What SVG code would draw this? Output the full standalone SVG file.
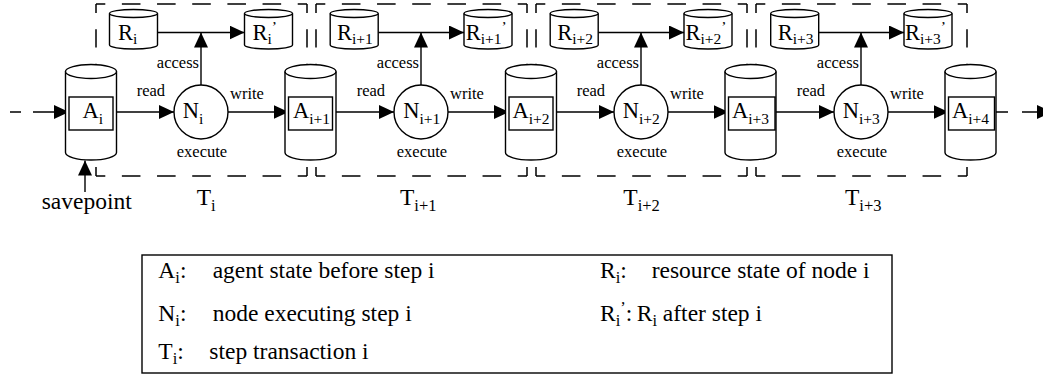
<svg xmlns="http://www.w3.org/2000/svg" xmlns:xlink="http://www.w3.org/1999/xlink" width="1043" height="376" viewBox="0 0 1043 376">
<style>
.ln{stroke:#000;stroke-width:1.4;fill:none}
.arr{marker-end:url(#ah)}
.box{fill:none;stroke:#000;stroke-width:1.5}
.dh{stroke-dasharray:18.6 16.57;stroke-dashoffset:9.3}
.dv{stroke-dasharray:18.2 16.2;stroke-dashoffset:9.1}
.node{fill:#fff;stroke:#000;stroke-width:1.4}
text{font-family:"Liberation Serif","Times New Roman",serif;fill:#000}
.big{font-size:22.5px}
.sub{font-size:15.5px}
.lbl{font-size:16.5px}
.cap{font-size:23.5px}
.csub{font-size:16.5px}
</style>
<defs>
<marker id="ah" viewBox="0 0 15 14" refX="15" refY="7" markerWidth="15" markerHeight="14" markerUnits="userSpaceOnUse" orient="auto"><path d="M0,0 L15,7 L0,14 Z" fill="#000"/></marker>
<g id="cylA"><path d="M-25.5,71.5 V152.5 A25.5,7.5 0 0 0 25.5,152.5 V71.5" fill="#fff" stroke="#000" stroke-width="1.4"/><ellipse cx="0" cy="71.5" rx="25.5" ry="7" fill="#fff" stroke="#000" stroke-width="1.4"/></g>
<g id="cylR"><path d="M-24,13.5 V45 A24,4 0 0 0 24,45 V13.5" fill="#fff" stroke="#000" stroke-width="1.4"/><ellipse cx="0" cy="13.5" rx="24" ry="4" fill="#fff" stroke="#000" stroke-width="1.4"/></g>
</defs>
<rect width="1043" height="376" fill="#fff"/>

<!-- transaction boxes -->
<g id="T0">
<line class="box dh" x1="96" y1="4" x2="307" y2="4"/><line class="box dh" x1="96" y1="176" x2="307" y2="176"/>
<line class="box dv" x1="96" y1="4" x2="96" y2="176"/><line class="box dv" x1="307" y1="4" x2="307" y2="176"/>
<text class="cap" x="196.7" y="205">T<tspan class="csub" y="210.5">i</tspan></text>
</g>
<g id="T1">
<line class="box dh" x1="316" y1="4" x2="527" y2="4"/><line class="box dh" x1="316" y1="176" x2="527" y2="176"/>
<line class="box dv" x1="316" y1="4" x2="316" y2="176"/><line class="box dv" x1="527" y1="4" x2="527" y2="176"/>
<text class="cap" x="400" y="205">T<tspan class="csub" y="210.5">i+1</tspan></text>
</g>
<g id="T2">
<line class="box dh" x1="536" y1="4" x2="747" y2="4"/><line class="box dh" x1="536" y1="176" x2="747" y2="176"/>
<line class="box dv" x1="536" y1="4" x2="536" y2="176"/><line class="box dv" x1="747" y1="4" x2="747" y2="176"/>
<text class="cap" x="623.3" y="205">T<tspan class="csub" y="210.5">i+2</tspan></text>
</g>
<g id="T3">
<line class="box dh" x1="756" y1="4" x2="967" y2="4"/><line class="box dh" x1="756" y1="176" x2="967" y2="176"/>
<line class="box dv" x1="756" y1="4" x2="756" y2="176"/><line class="box dv" x1="967" y1="4" x2="967" y2="176"/>
<text class="cap" x="845" y="205">T<tspan class="csub" y="210.5">i+3</tspan></text>
</g>

<!-- connectors -->
<g id="connectors">
<path class="ln arr" d="M10,112 H21 M33,112 H69"/>
<path class="ln arr" d="M112.7,112 H174"/>
<path class="ln arr" d="M228,112 H288.5"/>
<path class="ln arr" d="M332.5,112 H394"/>
<path class="ln arr" d="M448,112 H509"/>
<path class="ln arr" d="M553,112 H614"/>
<path class="ln arr" d="M668,112 H728.5"/>
<path class="ln arr" d="M775,112 H834"/>
<path class="ln arr" d="M888,112 H948.5"/>
<path class="ln arr" d="M994.5,112 H1008 M1022,112 H1052"/>
<path class="ln arr" d="M201,85 V32.5"/>
<path class="ln arr" d="M421,85 V32.5"/>
<path class="ln arr" d="M641,85 V32.5"/>
<path class="ln arr" d="M861,85 V32.5"/>
<path class="ln arr" d="M157.5,32.5 H244.5"/>
<path class="ln arr" d="M378.2,32.5 H464"/>
<path class="ln arr" d="M598.2,32.5 H684"/>
<path class="ln arr" d="M818.7,32.5 H904"/>
<path class="ln arr" d="M85,192 V160.5"/>
</g>

<!-- edge labels -->
<g id="labels">
<text class="lbl" x="136.7" y="96">read</text>
<text class="lbl" x="356.7" y="96">read</text>
<text class="lbl" x="576.7" y="96">read</text>
<text class="lbl" x="796.7" y="96">read</text>
<text class="lbl" x="230" y="98.5">write</text>
<text class="lbl" x="450" y="98.5">write</text>
<text class="lbl" x="670" y="98.5">write</text>
<text class="lbl" x="890" y="98.5">write</text>
<text class="lbl" x="199" y="68" text-anchor="end">access</text>
<text class="lbl" x="419" y="68" text-anchor="end">access</text>
<text class="lbl" x="639" y="68" text-anchor="end">access</text>
<text class="lbl" x="859" y="68" text-anchor="end">access</text>
<text class="lbl" x="202" y="157" text-anchor="middle">execute</text>
<text class="lbl" x="422" y="157" text-anchor="middle">execute</text>
<text class="lbl" x="642" y="157" text-anchor="middle">execute</text>
<text class="lbl" x="862" y="157" text-anchor="middle">execute</text>
<text class="cap" x="86.7" y="209" text-anchor="middle">savepoint</text>
</g>

<!-- agent state nodes -->
<g id="A0"><use xlink:href="#cylA" x="91"/><rect class="node" x="69" y="97" width="44" height="33"/><text class="big" x="82.5" y="118">A<tspan class="sub" y="124">i</tspan></text></g>
<g id="A1"><use xlink:href="#cylA" x="310.5"/><rect class="node" x="288.5" y="97" width="44" height="33"/><text class="big" x="293" y="118">A<tspan class="sub" y="124">i+1</tspan></text></g>
<g id="A2"><use xlink:href="#cylA" x="531"/><rect class="node" x="509" y="97" width="44" height="33"/><text class="big" x="512.5" y="118">A<tspan class="sub" y="124">i+2</tspan></text></g>
<g id="A3"><use xlink:href="#cylA" x="750.5"/><rect class="node" x="728.5" y="97" width="46.5" height="33"/><text class="big" x="732" y="118">A<tspan class="sub" y="124">i+3</tspan></text></g>
<g id="A4"><use xlink:href="#cylA" x="970.5"/><rect class="node" x="948.5" y="97" width="46" height="33"/><text class="big" x="952" y="118">A<tspan class="sub" y="124">i+4</tspan></text></g>

<!-- execution nodes -->
<g id="N0"><circle class="node" cx="201" cy="112" r="27"/><text class="big" x="182.7" y="118">N<tspan class="sub" y="124">i</tspan></text></g>
<g id="N1"><circle class="node" cx="421" cy="112" r="27"/><text class="big" x="403.3" y="118">N<tspan class="sub" y="124">i+1</tspan></text></g>
<g id="N2"><circle class="node" cx="641" cy="112" r="27"/><text class="big" x="622.7" y="118">N<tspan class="sub" y="124">i+2</tspan></text></g>
<g id="N3"><circle class="node" cx="861" cy="112" r="27"/><text class="big" x="842.7" y="118">N<tspan class="sub" y="124">i+3</tspan></text></g>

<!-- resource nodes -->
<g id="R0"><use xlink:href="#cylR" x="133.5"/><text class="big" x="118" y="39.5">R<tspan class="sub" y="43.5">i</tspan></text></g>
<g id="R1"><use xlink:href="#cylR" x="354.2"/><text class="big" x="337" y="39.5">R<tspan class="sub" y="43.5">i+1</tspan></text></g>
<g id="R2"><use xlink:href="#cylR" x="574.2"/><text class="big" x="557.3" y="39.5">R<tspan class="sub" y="43.5">i+2</tspan></text></g>
<g id="R3"><use xlink:href="#cylR" x="794.7"/><text class="big" x="777.7" y="39.5">R<tspan class="sub" y="43.5">i+3</tspan></text></g>
<g id="Rp0"><use xlink:href="#cylR" x="268.5"/><text class="big" x="252.5" y="39.5">R<tspan class="sub" y="43.5">i</tspan><tspan class="sub" y="31.5">’</tspan></text></g>
<g id="Rp1"><use xlink:href="#cylR" x="488"/><text class="big" x="465.7" y="39.5">R<tspan class="sub" y="43.5">i+1</tspan><tspan class="sub" y="31.5">’</tspan></text></g>
<g id="Rp2"><use xlink:href="#cylR" x="708"/><text class="big" x="685.5" y="39.5">R<tspan class="sub" y="43.5">i+2</tspan><tspan class="sub" y="31.5">’</tspan></text></g>
<g id="Rp3"><use xlink:href="#cylR" x="928"/><text class="big" x="905" y="39.5">R<tspan class="sub" y="43.5">i+3</tspan><tspan class="sub" y="31.5">’</tspan></text></g>

<!-- legend -->
<g id="legend">
<rect x="142" y="255" width="750" height="118" fill="none" stroke="#000" stroke-width="1.4"/>
<text class="cap" x="158.3" y="278">A<tspan class="csub" y="283">i</tspan><tspan y="278">:</tspan></text>
<text class="cap" x="212.7" y="278">agent state before step i</text>
<text class="cap" x="158.3" y="321">N<tspan class="csub" y="326">i</tspan><tspan y="321">:</tspan></text>
<text class="cap" x="212.7" y="321">node executing step i</text>
<text class="cap" x="158.3" y="359">T<tspan class="csub" y="364">i</tspan><tspan y="359">:</tspan></text>
<text class="cap" x="209.3" y="359">step transaction i</text>
<text class="cap" x="600" y="278">R<tspan class="csub" y="283">i</tspan><tspan y="278">:</tspan></text>
<text class="cap" x="651.7" y="278">resource state of node i</text>
<text class="cap" x="600" y="321">R<tspan class="csub" y="326">i</tspan><tspan class="csub" y="313">’</tspan><tspan y="321">:</tspan></text>
<text class="cap" x="636.7" y="321">R<tspan class="csub" y="326">i</tspan><tspan y="321"> after step i</tspan></text>
</g>
</svg>
